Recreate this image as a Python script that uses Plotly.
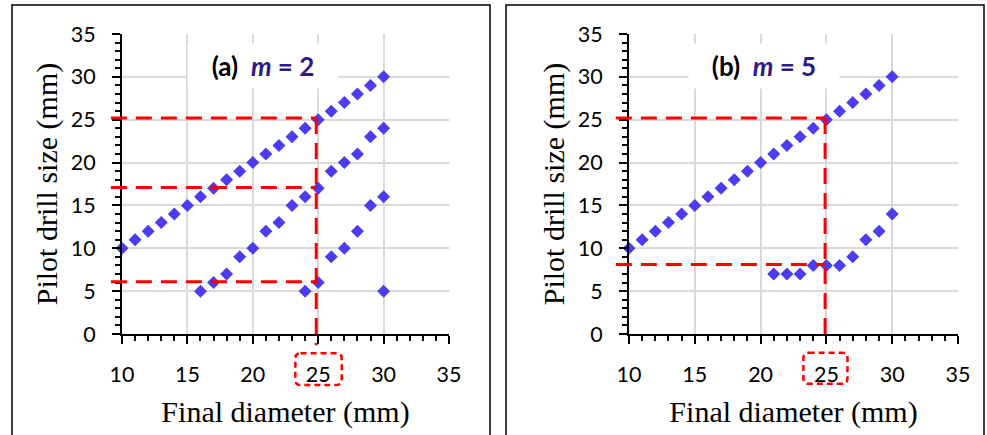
import plotly.graph_objects as go

# ---------------- data ----------------
a_s1_x = [10, 11, 12, 13, 14, 15, 16, 17, 18, 19, 20, 21, 22, 23, 24, 25, 26, 27, 28, 29, 30]
a_s1_y = [10, 11, 12, 13, 14, 15, 16, 17, 18, 19, 20, 21, 22, 23, 24, 25, 26, 27, 28, 29, 30]
a_s2_x = [16, 17, 18, 19, 20, 21, 22, 23, 24, 25, 26, 27, 28, 29, 30]
a_s2_y = [5, 6, 7, 9, 10, 12, 13, 15, 16, 17, 19, 20, 21, 23, 24]
a_s3_x = [24, 25, 26, 27, 28, 29, 30, 30]
a_s3_y = [5, 6, 9, 10, 12, 15, 16, 5]

b_s1_x = [10, 11, 12, 13, 14, 15, 16, 17, 18, 19, 20, 21, 22, 23, 24, 25, 26, 27, 28, 29, 30]
b_s1_y = [10, 11, 12, 13, 14, 15, 16, 17, 18, 19, 20, 21, 22, 23, 24, 25, 26, 27, 28, 29, 30]
b_s2_x = [21, 22, 23, 24, 25, 26, 27, 28, 29, 30]
b_s2_y = [7, 7, 7, 8, 8, 8, 9, 11, 12, 14]

# guide lines (reading of the chart)
a_target_x = 24.85
a_guides_y = [25.2, 17.1, 6.1]
b_target_x = 24.9
b_guides_y = [25.2, 8.1]

x_tickvals = [10, 15, 20, 25, 30, 35]
y_tickvals = [0, 5, 10, 15, 20, 25, 30, 35]
X_RANGE = [10, 35]
Y_RANGE = [0, 35]

titles = ["(a)", "(b)"]
m_vals = ["2", "5"]

# ---------------- style ----------------
MARKER_COLOR = "#4B3CF2"
TITLE_PURPLE = "#2E1A87"
RED = "#FF0000"
GRID = "#D9D9D9"
TICK_FONT = dict(family="Lato", size=21.5, color="black")
TITLE_FONT = dict(family="Liberation Serif", size=30, color="black")


def xd(v):
    return (v - X_RANGE[0]) / (X_RANGE[1] - X_RANGE[0])


def yd(v):
    return (v - Y_RANGE[0]) / (Y_RANGE[1] - Y_RANGE[0])


fig = go.Figure()

mk = dict(symbol="diamond", size=10, color=MARKER_COLOR, line=dict(width=0))
for xs, ys in [(a_s1_x, a_s1_y), (a_s2_x, a_s2_y), (a_s3_x, a_s3_y)]:
    fig.add_trace(go.Scatter(x=xs, y=ys, mode="markers", marker=mk, xaxis="x", yaxis="y",
                             showlegend=False, cliponaxis=False))
for xs, ys in [(b_s1_x, b_s1_y), (b_s2_x, b_s2_y)]:
    fig.add_trace(go.Scatter(x=xs, y=ys, mode="markers", marker=mk, xaxis="x2", yaxis="y2",
                             showlegend=False, cliponaxis=False))

W, H = 987, 435
dom_a = [122 / W, 449 / W]
dom_b = [629 / W, 958 / W]
dom_y = [(H - 334) / H, (H - 34) / H]


def xaxis_cfg(dom, anchor):
    return dict(
        domain=dom, anchor=anchor, range=X_RANGE, tickvals=x_tickvals, automargin=False,
        showline=True, linecolor="black", linewidth=1.8,
        ticks="outside", ticklen=8, tickwidth=1.5, tickcolor="black",
        minor=dict(dtick=1, ticks="outside", ticklen=5, tickwidth=1.5, tickcolor="black", showgrid=False),
        showgrid=True, gridcolor=GRID, gridwidth=1.5, zeroline=False,
        tickfont=TICK_FONT, ticklabelstandoff=12,
        title=dict(text="Final diameter (mm)", font=TITLE_FONT, standoff=15),
        fixedrange=True,
    )


def yaxis_cfg(anchor):
    return dict(
        domain=dom_y, anchor=anchor, range=Y_RANGE, tickvals=y_tickvals, automargin=False,
        showline=True, linecolor="black", linewidth=1.8,
        ticks="outside", ticklen=8, tickwidth=1.5, tickcolor="black",
        minor=dict(dtick=1, ticks="outside", ticklen=5, tickwidth=1.5, tickcolor="black", showgrid=False),
        showgrid=True, gridcolor=GRID, gridwidth=1.5, zeroline=False,
        tickfont=TICK_FONT, ticklabelstandoff=12,
        title=dict(text="Pilot drill size (mm)", font=TITLE_FONT, standoff=4),
        fixedrange=True,
    )


fig.update_layout(
    width=W, height=H, margin=dict(l=0, r=0, t=0, b=0, autoexpand=False),
    paper_bgcolor="white", plot_bgcolor="white",
    xaxis=xaxis_cfg(dom_a, "y"), yaxis=yaxis_cfg("x"),
    xaxis2=xaxis_cfg(dom_b, "y2"), yaxis2=yaxis_cfg("x2"),
)

dash = "16px,9px"
shapes = []
# panel (a) guides
for gy in a_guides_y:
    shapes.append(dict(type="line", xref="x domain", yref="y", x0=xd(9.15), x1=xd(a_target_x),
                       y0=gy, y1=gy, line=dict(color=RED, width=3, dash=dash), layer="above"))
shapes.append(dict(type="line", xref="x", yref="y domain", x0=a_target_x, x1=a_target_x,
                   y0=yd(max(a_guides_y)), y1=yd(-1.3), line=dict(color=RED, width=3, dash=dash), layer="above"))
# panel (b) guides
for gy in b_guides_y:
    shapes.append(dict(type="line", xref="x2 domain", yref="y2", x0=xd(9.0), x1=xd(b_target_x),
                       y0=gy, y1=gy, line=dict(color=RED, width=3, dash=dash), layer="above"))
shapes.append(dict(type="line", xref="x2", yref="y2 domain", x0=b_target_x, x1=b_target_x,
                   y0=yd(max(b_guides_y)), y1=yd(0), line=dict(color=RED, width=3, dash=dash), layer="above"))


# dashed rounded boxes around the "25" tick label
def rounded_box(xref, yref, x0, x1, y0, y1, rx, ry):
    p = (f"M {x0+rx},{y0} L {x1-rx},{y0} Q {x1},{y0} {x1},{y0-ry} "
         f"L {x1},{y1+ry} Q {x1},{y1} {x1-rx},{y1} L {x0+rx},{y1} "
         f"Q {x0},{y1} {x0},{y1+ry} L {x0},{y0-ry} Q {x0},{y0} {x0+rx},{y0} Z")
    return dict(type="path", xref=xref, yref=yref, path=p,
                line=dict(color=RED, width=2.5, dash="6px,4px"), layer="above")


shapes.append(rounded_box("x", "y domain", 23.25, 26.8, yd(-2.25), yd(-5.95), 0.4, yd(0.6)))
shapes.append(rounded_box("x2", "y2 domain", 23.25, 26.6, yd(-2.2), yd(-5.8), 0.4, yd(0.6)))

# panel frames
shapes.append(dict(type="rect", xref="paper", yref="paper", x0=12 / W, x1=490 / W,
                   y0=-0.05, y1=(H - 5) / H, line=dict(color="black", width=1.5), layer="above"))
shapes.append(dict(type="rect", xref="paper", yref="paper", x0=506 / W, x1=984 / W,
                   y0=-0.05, y1=(H - 5) / H, line=dict(color="black", width=1.5), layer="above"))
fig.update_layout(shapes=shapes)

# panel titles
ann = []
for i, (t, m, xr, yr, cx) in enumerate([(titles[0], m_vals[0], "x", "y", 20.78),
                                         (titles[1], m_vals[1], "x2", "y2", 20.22)]):
    txt = (f"<b>{t}&nbsp;&nbsp;<span style='color:{TITLE_PURPLE}'><i>m</i> = {m}</span></b>")
    ann.append(dict(x=cx, y=31.3, xref=xr, yref=yr, text=txt, showarrow=False,
                    font=dict(family="Lato", size=26, color="black"),
                    bgcolor="white", width=150, height=44, borderpad=0))
fig.update_layout(annotations=ann)

fig.write_html("out.html", config={"displayModeBar": False},
               post_script="document.body.style.margin='0';")
